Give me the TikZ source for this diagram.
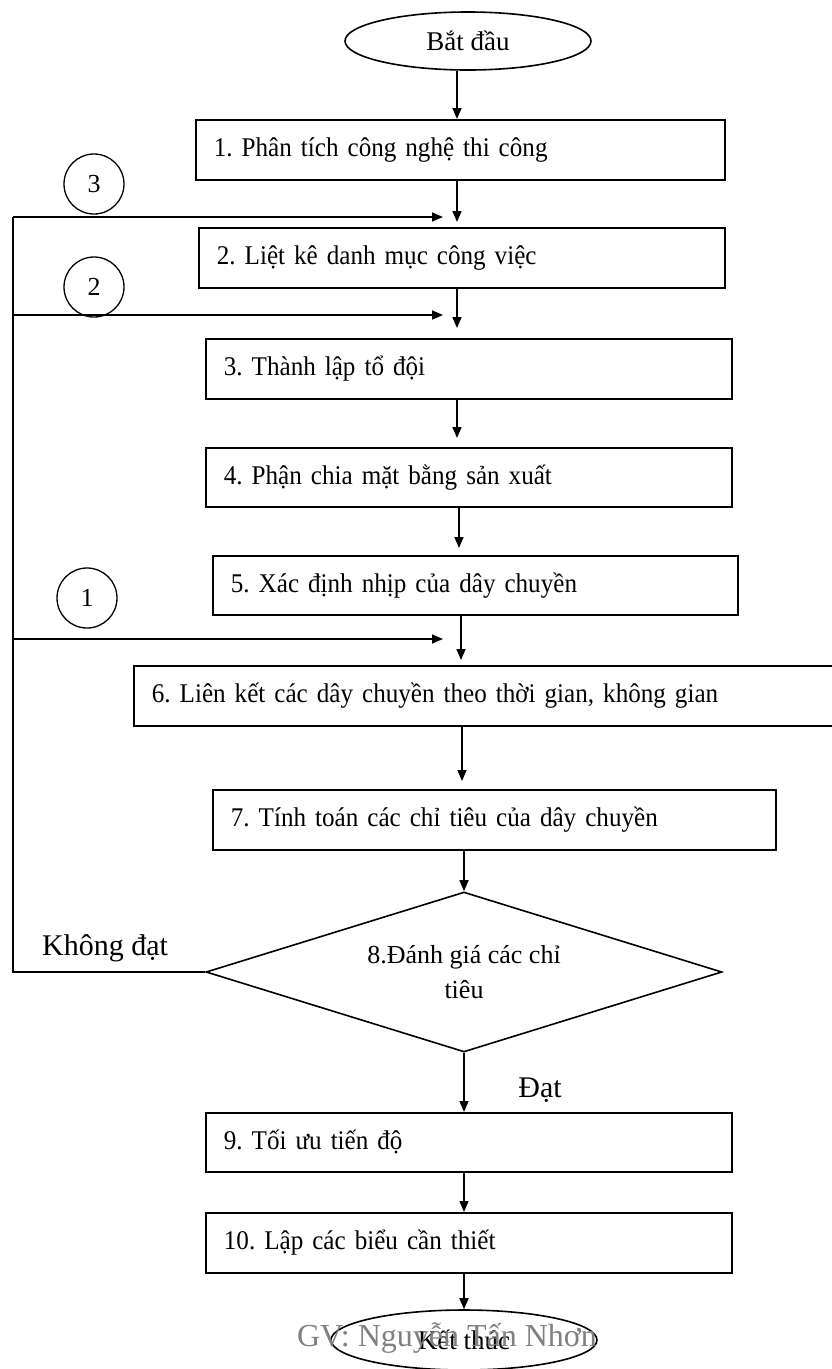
\documentclass[tikz,border=0pt]{standalone}
\usepackage{fontspec}
\setmainfont{Liberation Serif}
\newfontfamily\narrowserif[FakeStretch=0.93]{Liberation Serif}
\usetikzlibrary{shapes.geometric,arrows.meta}
\newcommand{\boxfont}{\narrowserif\fontsize{27}{31}\selectfont\frenchspacing\spaceskip=0.2em plus 0.05em minus 0.05em\relax}
\begin{document}
\begin{tikzpicture}[x=1pt,y=-1pt,
  stepbox/.style={draw, line width=1.8pt, rectangle, anchor=north west,
    minimum height=60pt, inner xsep=18pt, inner ysep=0pt, align=left,
    font=\boxfont},
  terminal/.style={draw, ellipse, line width=1.6pt, inner sep=0pt,
    font=\fontsize{27}{31}\selectfont},
  marker/.style={draw, circle, minimum size=60pt, inner sep=0pt,
    line width=1.3pt, font=\fontsize{26}{30}\selectfont},
  flow/.style={-{Triangle[length=11pt,width=9pt]}, line width=1.6pt},
  plain/.style={line width=1.6pt},
  label/.style={font=\fontsize{30}{34}\selectfont}
]
\useasboundingbox (0,0) rectangle (831,1369);

% start / end
\node[terminal, minimum width=246pt, minimum height=58pt] (start) at (468,41) {Bắt đầu};
\node[terminal, minimum width=266pt, minimum height=60pt] (stop) at (464,1340) {Kết thúc};

% process steps
\node[stepbox, text width=493pt] (b1) at (195,119) {1. Phân tích công nghệ thi công};
\node[stepbox, text width=490pt] (b2) at (198,227) {2. Liệt kê danh mục công việc};
\node[stepbox, text width=490pt] (b3) at (205,338) {3. Thành lập tổ đội};
\node[stepbox, text width=490pt, minimum height=59pt] (b4) at (205,447) {4. Phận chia mặt bằng sản xuất};
\node[stepbox, text width=489pt, minimum height=59pt] (b5) at (212,555) {5. Xác định nhịp của dây chuyền};
\node[stepbox, text width=674pt] (b6) at (133,665) {6. Liên kết các dây chuyền theo thời gian, không gian};
\node[stepbox, text width=527pt] (b7) at (212,789) {7. Tính toán các chỉ tiêu của dây chuyền};
\node[draw, diamond, line width=1.6pt, aspect=3.2, inner sep=0pt,
  minimum width=516pt, minimum height=160pt, align=center,
  font=\fontsize{26}{35}\selectfont\frenchspacing] (d8) at (464,972) {8.Đánh giá các chỉ\\tiêu};
\node[stepbox, text width=490pt, minimum height=59pt] (b9) at (205,1112) {9. Tối ưu tiến độ};
\node[stepbox, text width=490pt] (b10) at (205,1212) {10. Lập các biểu cần thiết};

% loop-back markers
\node[marker] (c3) at (94,184) {3};
\node[marker] (c2) at (94,287) {2};
\node[marker] (c1) at (87,598) {1};

% column positions of the main arrows
\coordinate (xa) at (457,0);
\coordinate (xb) at (459,0);
\coordinate (xc) at (461,0);
\coordinate (xd) at (462,0);
\coordinate (xe) at (464,0);

\draw[flow] (start.south -| xa) -- (b1.north -| xa);
\draw[flow, shorten >=5pt] (b1.south -| xa) -- (b2.north -| xa);
\draw[flow, shorten >=10pt] (b2.south -| xa) -- (b3.north -| xa);
\draw[flow, shorten >=9pt] (b3.south -| xa) -- (b4.north -| xa);
\draw[flow, shorten >=7pt] (b4.south -| xb) -- (b5.north -| xb);
\draw[flow, shorten >=5pt] (b5.south -| xc) -- (b6.north -| xc);
\draw[flow, shorten >=8pt] (b6.south -| xd) -- (b7.north -| xd);
\draw[flow] (b7.south -| xe) -- (d8.north);
\draw[flow] (d8.south) -- (b9.north -| xe);
\draw[flow] (b9.south -| xe) -- (b10.north -| xe);
\draw[flow] (b10.south -| xe) -- (stop.north);

% feedback line from the decision
\coordinate (fbd) at (13,972);
\coordinate (fb3) at (13,217);
\coordinate (fb2) at (13,315);
\coordinate (fb1) at (13,639);
\coordinate (in3) at (443,217);
\coordinate (in2) at (443,315);
\coordinate (in1) at (443,639);
\draw[plain] (d8.west) -- (fbd) -- (fb3);
\draw[flow] (fb3) -- (in3);
\draw[flow] (fb2) -- (in2);
\draw[flow] (fb1) -- (in1);

% branch labels
\node[label] (no) at (105,948) {Không đạt};
\node[label] (yes) at (540,1090) {Đạt};

% footer
\node[font=\fontsize{32}{36}\selectfont, text=black!50] (author) at (447,1338) {GV: Nguyễn Tấn Nhơn};
\end{tikzpicture}
\end{document}
